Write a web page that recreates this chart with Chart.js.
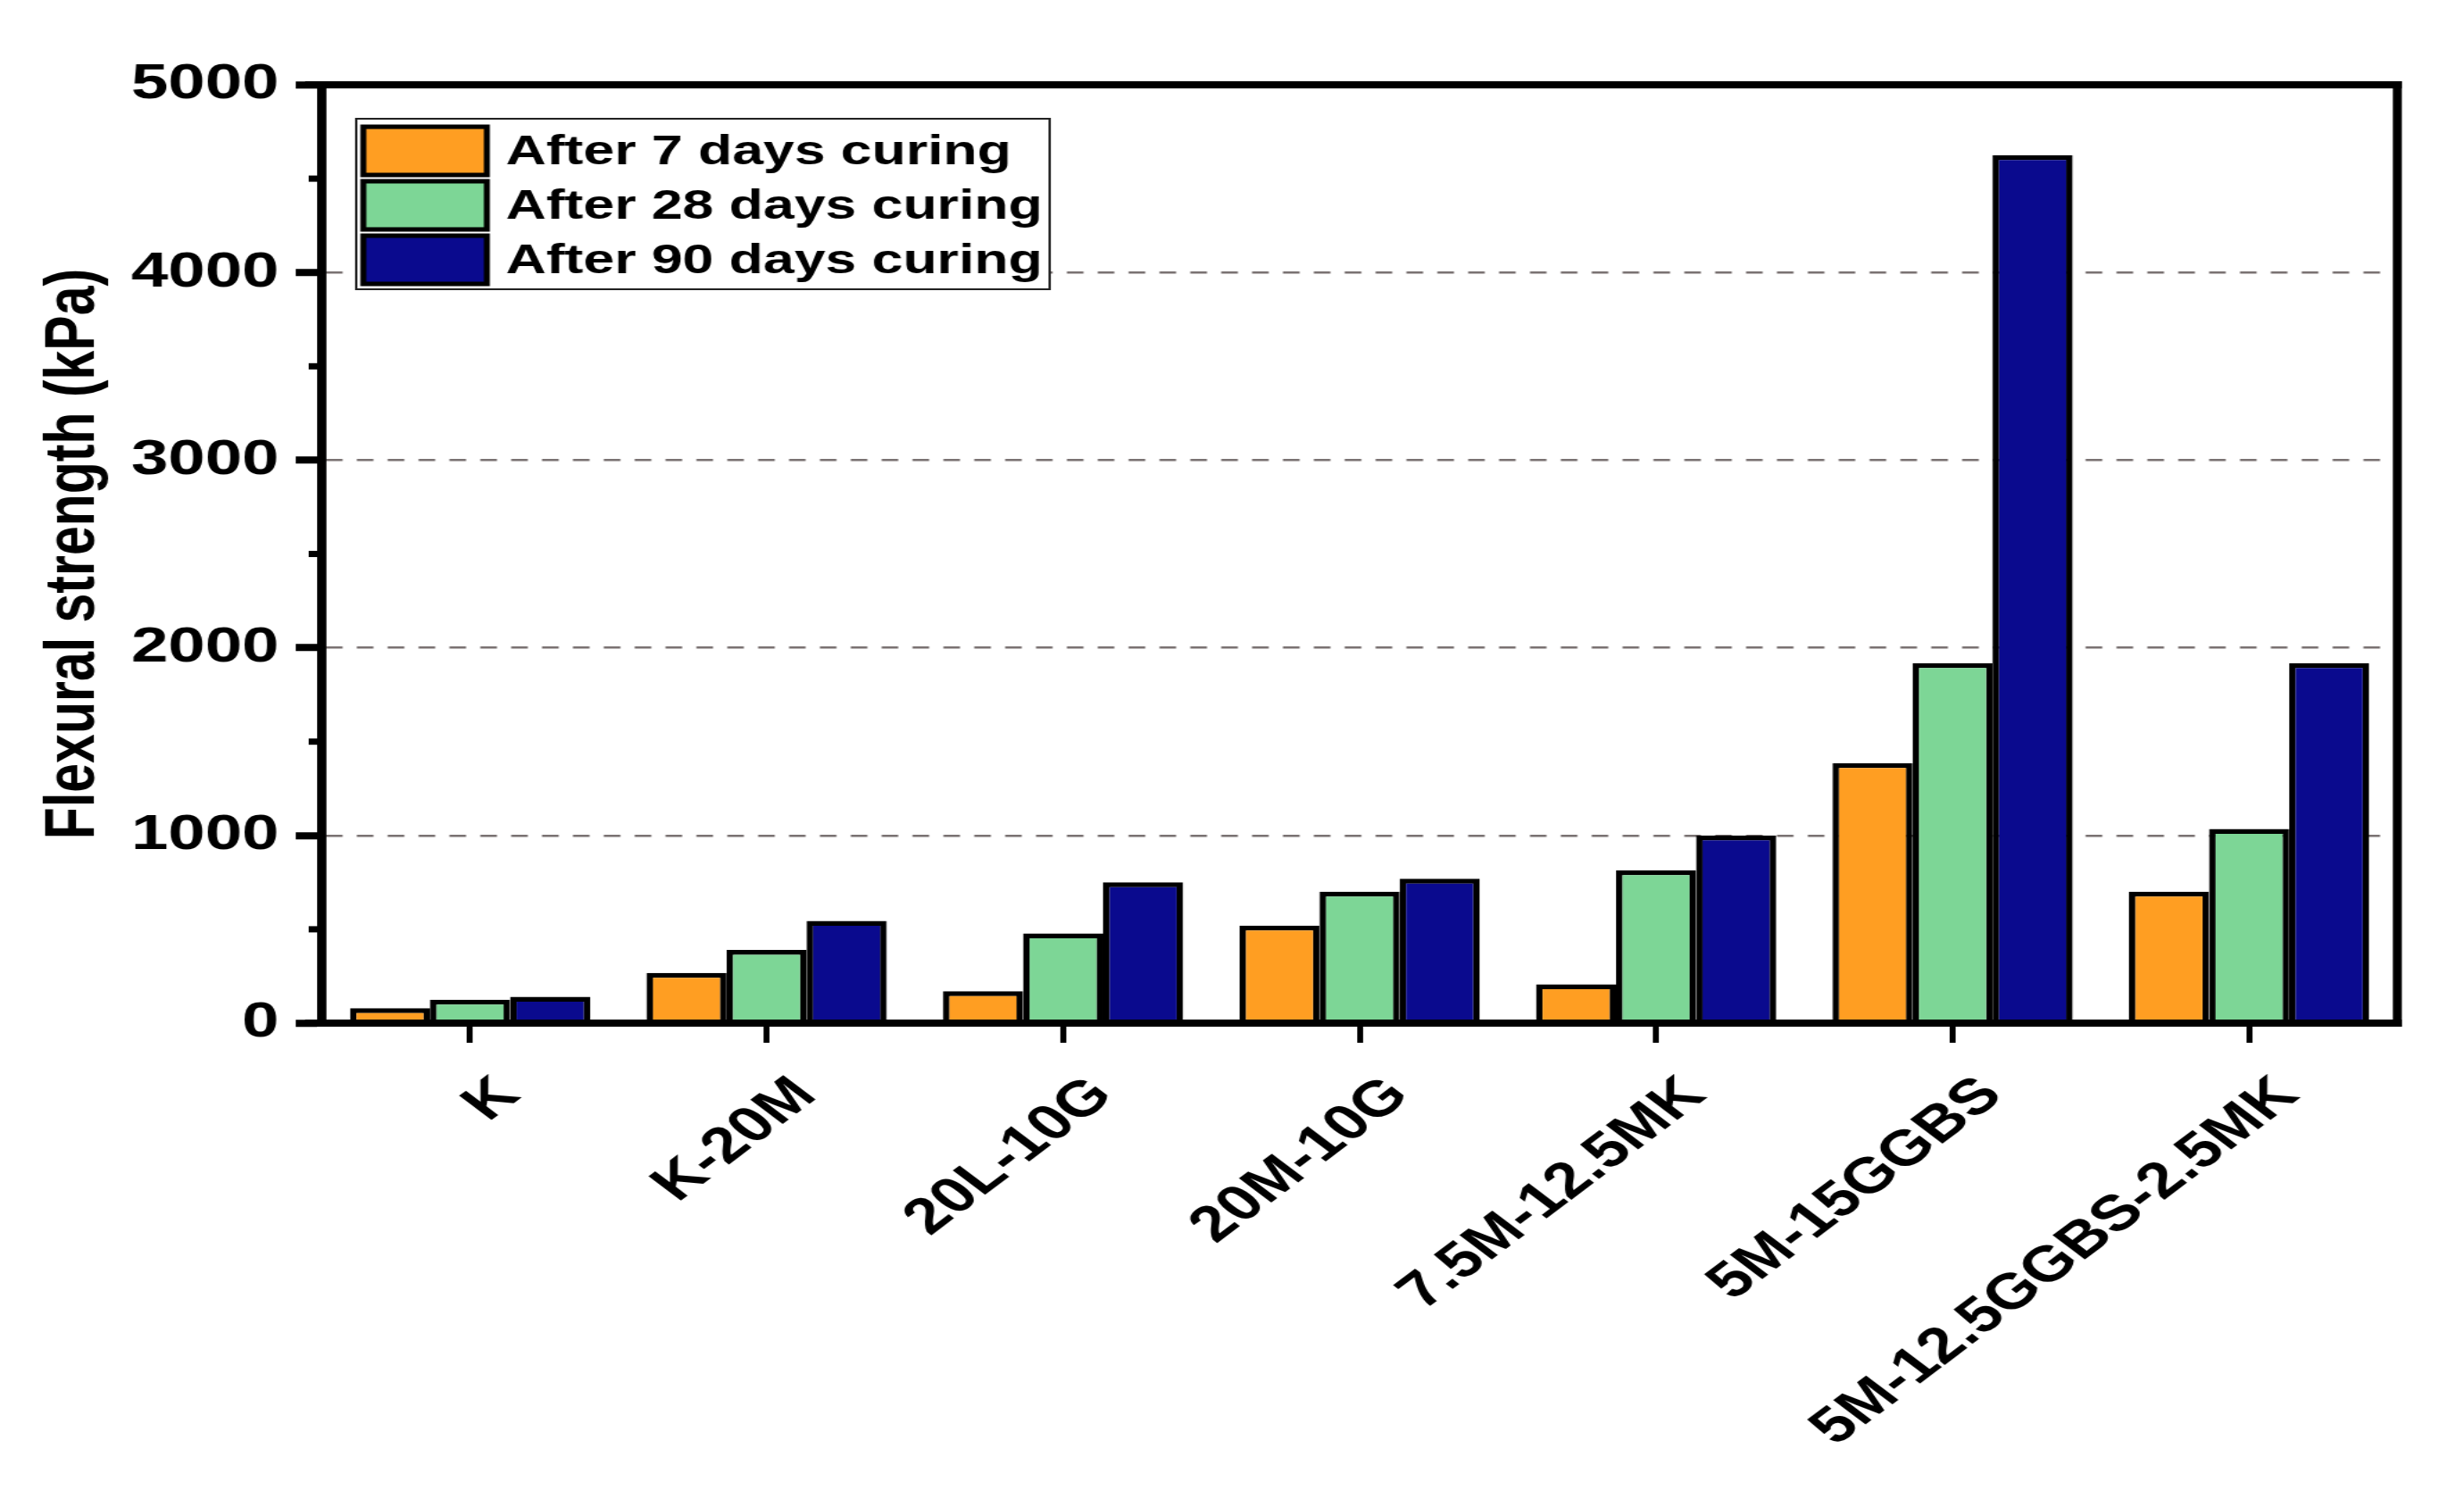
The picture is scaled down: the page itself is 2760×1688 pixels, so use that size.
<!DOCTYPE html>
<html>
<head>
<meta charset="utf-8">
<script src="https://cdn.jsdelivr.net/npm/chart.js@4.4.1/dist/chart.umd.min.js"></script>
<style>
html, body { margin: 0; padding: 0; background: #ffffff; overflow: hidden; }
#wrap { width: 2075px; height: 1688px; transform: scaleX(1.33); transform-origin: 0 0; }
</style>
</head>
<body>
<div id="wrap"><canvas id="c" width="2075" height="1688"></canvas></div>
<script>
// ---- data ----
const categories = ['K', 'K-20M', '20L-10G', '20M-10G', '7.5M-12.5MK', '5M-15GGBS', '5M-12.5GGBS-2.5MK'];
const seriesLabels = ['After 7 days curing', 'After 28 days curing', 'After 90 days curing'];
const after7 = [80, 268, 170, 520, 207, 1385, 700];
const after28 = [125, 390, 478, 700, 815, 1918, 1035];
const after90 = [140, 545, 750, 770, 1000, 4625, 1918];
const yTickValues = [0, 1000, 2000, 3000, 4000, 5000];
const yMinorTickValues = [500, 1500, 2500, 3500, 4500];
const yTitle = 'Flexural strength (kPa)';
const seriesColors = ['#FF9E22', '#7DD696', '#0A0A8E'];

const FONT = "'Liberation Sans', Arial, sans-serif";
Chart.defaults.font.family = FONT;
Chart.defaults.color = '#000';

const framePlugin = {
  id: 'frame',
  afterDatasetsDraw(chart) {
    const ctx = chart.ctx;
    const a = chart.chartArea;
    const y = chart.scales.y;
    ctx.save();
    ctx.strokeStyle = '#000';
    // minor ticks
    ctx.lineWidth = 7;
    yMinorTickValues.forEach(v => {
      const py = y.getPixelForValue(v);
      ctx.beginPath();
      ctx.moveTo(a.left - 11, py);
      ctx.lineTo(a.left, py);
      ctx.stroke();
    });
    // frame
    ctx.lineWidth = 8;
    ctx.beginPath();
    ctx.moveTo(a.left - 14, a.top);
    ctx.lineTo(a.right + 3.75, a.top);
    ctx.moveTo(a.left - 14, a.bottom);
    ctx.lineTo(a.right + 3.75, a.bottom);
    ctx.stroke();
    ctx.lineWidth = 7.5;
    ctx.beginPath();
    ctx.moveTo(a.left, a.top - 4);
    ctx.lineTo(a.left, a.bottom + 4);
    ctx.moveTo(a.right, a.top - 4);
    ctx.lineTo(a.right, a.bottom + 4);
    ctx.stroke();

    // legend box
    const bx = a.left + 29, by = a.top + 38, bw = 584, bh = 191;
    ctx.fillStyle = '#fff';
    ctx.fillRect(bx, by, bw, bh);
    ctx.lineWidth = 2;
    ctx.strokeStyle = '#222';
    ctx.strokeRect(bx, by, bw, bh);
    ctx.font = 'bold 47px ' + FONT;
    ctx.textBaseline = 'middle';
    ctx.textAlign = 'left';
    chart.data.datasets.forEach((ds, i) => {
      const sy = by + 9 + i * 61;
      ctx.fillStyle = ds.backgroundColor;
      ctx.fillRect(bx + 6, sy, 104, 54);
      ctx.lineWidth = 5;
      ctx.strokeStyle = '#000';
      ctx.strokeRect(bx + 6, sy, 104, 54);
      ctx.fillStyle = '#000';
      ctx.fillText(ds.label, bx + 126, sy + 29);
    });
    ctx.restore();
  }
};

new Chart(document.getElementById('c'), {
  type: 'bar',
  data: {
    labels: categories,
    datasets: [after7, after28, after90].map((vals, i) => ({
      label: seriesLabels[i],
      data: vals,
      backgroundColor: seriesColors[i],
      borderColor: '#000',
      borderWidth: 5.5,
      categoryPercentage: 0.81,
      barPercentage: 1.0
    }))
  },
  options: {
    responsive: false,
    animation: false,
    devicePixelRatio: 1,
    layout: { padding: { left: 0, right: 56, top: 95, bottom: 0 } },
    plugins: { legend: { display: false }, tooltip: { enabled: false } },
    scales: {
      x: {
        offset: true,
        afterFit(scale) { scale.height = 542; },
        grid: {
          offset: false,
          drawOnChartArea: false,
          drawTicks: true,
          tickLength: 22,
          tickWidth: 5,
          tickColor: '#000'
        },
        border: { display: true, color: '#000', width: 8 },
        ticks: {
          autoSkip: false,
          maxRotation: 45,
          minRotation: 45,
          padding: 26,
          labelOffset: 33,
          color: '#000',
          font: { size: 56, weight: 'bold', family: FONT }
        }
      },
      y: {
        min: 0,
        max: 5000,
        afterFit(scale) { scale.width = 271; },
        afterBuildTicks(scale) { scale.ticks = yTickValues.map(v => ({ value: v })); },
        grid: {
          color: (c) => (c.tick && (c.tick.value === 0 || c.tick.value === 5000)) ? 'rgba(0,0,0,0)' : '#7a7272',
          lineWidth: 2.5,
          drawTicks: true,
          tickLength: 22,
          tickWidth: 8,
          tickColor: '#000',
          tickBorderDash: []
        },
        border: { display: true, color: '#000', width: 7.5, dash: [14, 12] },
        ticks: {
          padding: 14,
          color: '#000',
          callback: (v) => String(v),
          font: { size: 56, weight: 'bold', family: FONT }
        },
        title: {
          display: true,
          text: yTitle,
          color: '#000',
          padding: { top: 27, bottom: 0 },
          font: { size: 59, weight: 'bold', family: FONT }
        }
      }
    }
  },
  plugins: [framePlugin]
});
</script>
</body>
</html>
